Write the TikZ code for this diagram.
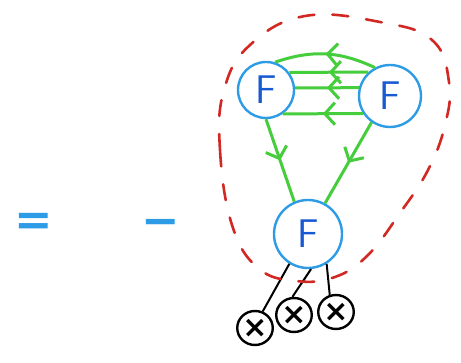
\documentclass[tikz,border=0pt]{standalone}
\usepackage{fontspec}
\newfontfamily\signfont{DejaVu Sans}
\usetikzlibrary{arrows.meta,decorations.markings,shapes.geometric}
\definecolor{penblue}{RGB}{45,155,230}
\definecolor{inkblue}{RGB}{25,90,210}
\definecolor{pengreen}{RGB}{70,205,60}
\definecolor{penred}{RGB}{210,40,35}
\tikzset{
  fnode/.style={circle, draw=penblue, line width=2.4pt, text=inkblue, inner sep=0pt, font=\fontsize{40}{40}\sffamily},
  xnode/.style={ellipse, draw=black, line width=2.4pt, minimum width=29pt, minimum height=34pt, inner sep=0pt, font=\fontsize{30}{30}\signfont\bfseries},
  flow/.style={draw=pengreen, line width=3pt, postaction={decorate},
    decoration={markings, mark=at position .5 with {\arrow{Straight Barb[length=10pt,width=22pt,line width=3pt]}}}},
  leg/.style={draw=black, line width=2pt},
  redloop/.style={draw=penred, line width=2.6pt, dash pattern=on 16pt off 18pt, line cap=round},
  sign/.style={text=penblue, font=\fontsize{46}{46}\signfont\bfseries}
}
\begin{document}
\begin{tikzpicture}[x=1pt, y=-1pt]
  \useasboundingbox (0,0) rectangle (461,363);

  % the three F blobs
  \node[fnode, minimum size=56pt] (F1) at (266,90) {F};
  \node[fnode, minimum size=62pt] (F2) at (390,96) {F};
  \node[fnode, minimum size=68pt] (F3) at (308,234) {F};

  % external legs
  \node[xnode] (X1) at (255,328) {×};
  \node[xnode] (X2) at (294,315) {×};
  \node[xnode] (X3) at (336,312) {×};

  % left hand side
  \node[sign] (eq) at (34,224) {=};
  \node[sign] (mi) at (161,228) {−};

  % propagators
  \draw[flow] (F2.118) to[bend right=22] (F1.72);
  \draw[flow] (F2.132) -- (F1.37);
  \draw[flow] (F2.165) -- (F1.4);
  \draw[flow] (F2.213) -- (F1.305);
  \draw[flow] (F1.270) -- (F3.113);
  \draw[flow] (F2.235) -- (F3.61);

  \draw[leg] (F3.238) -- (X1.65);
  \draw[leg] (F3.275) -- (X2.95);
  \draw[leg] (F3.302) -- (X3.110);

  % red dashed boundary
  \draw[redloop] plot[smooth cycle, tension=.7] coordinates {
    (232,225) (220,150) (224,90) (250,45) (305,16) (380,22) (432,40)
    (449,82) (445,125) (428,170) (400,213) (368,255) (335,277)
    (296,281) (258,268)};
\end{tikzpicture}
\end{document}
